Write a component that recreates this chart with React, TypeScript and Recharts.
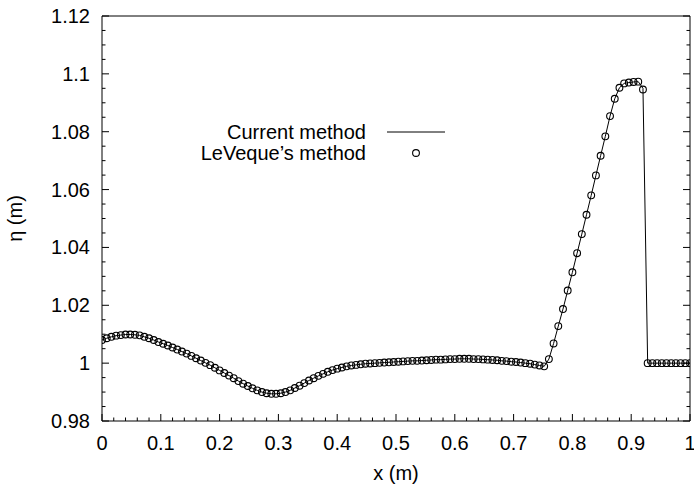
import React from 'react';
import { ComposedChart, Line, Scatter, XAxis, YAxis, Legend } from 'recharts';

// grid positions x (m)
const xPoints = [
  0, 0.008, 0.016, 0.024, 0.032, 0.04, 0.048, 0.056, 0.064, 0.072,
  0.08, 0.088, 0.096, 0.104, 0.112, 0.12, 0.128, 0.136, 0.144, 0.152,
  0.16, 0.168, 0.176, 0.184, 0.192, 0.2, 0.208, 0.216, 0.224, 0.232,
  0.24, 0.248, 0.256, 0.264, 0.272, 0.28, 0.288, 0.296, 0.304, 0.312,
  0.32, 0.328, 0.336, 0.344, 0.352, 0.36, 0.368, 0.376, 0.384, 0.392,
  0.4, 0.408, 0.416, 0.424, 0.432, 0.44, 0.448, 0.456, 0.464, 0.472,
  0.48, 0.488, 0.496, 0.504, 0.512, 0.52, 0.528, 0.536, 0.544, 0.552,
  0.56, 0.568, 0.576, 0.584, 0.592, 0.6, 0.608, 0.616, 0.624, 0.632,
  0.64, 0.648, 0.656, 0.664, 0.672, 0.68, 0.688, 0.696, 0.704, 0.712,
  0.72, 0.728, 0.736, 0.744, 0.752, 0.76, 0.768, 0.776, 0.784, 0.792,
  0.8, 0.808, 0.816, 0.824, 0.832, 0.84, 0.848, 0.856, 0.864, 0.872,
  0.88, 0.888, 0.896, 0.904, 0.912, 0.92, 0.928, 0.936, 0.944, 0.952,
  0.96, 0.968, 0.976, 0.984, 0.992, 1.0,
];

// LeVeque's method (circles)
const levequeEta = [
  1.0080, 1.0086, 1.0091, 1.0095, 1.0097, 1.0099, 1.0099, 1.0098, 1.0096, 1.0091,
  1.0086, 1.0080, 1.0073, 1.0067, 1.0061, 1.0054, 1.0047, 1.0040, 1.0033, 1.0025,
  1.0017, 1.0009, 1.0001, 0.9993, 0.9984, 0.9975, 0.9966, 0.9957, 0.9948, 0.9938,
  0.9929, 0.9921, 0.9913, 0.9906, 0.9900, 0.9896, 0.9894, 0.9894, 0.9896, 0.9900,
  0.9906, 0.9914, 0.9922, 0.9931, 0.9940, 0.9948, 0.9956, 0.9963, 0.9970, 0.9976,
  0.9981, 0.9985, 0.9989, 0.9992, 0.9994, 0.9996, 0.9998, 0.9999, 1.0000, 1.0001,
  1.0002, 1.0003, 1.0004, 1.0005, 1.0006, 1.0007, 1.0008, 1.0008, 1.0009, 1.0010,
  1.0011, 1.0012, 1.0012, 1.0013, 1.0014, 1.0014, 1.0015, 1.0015, 1.0015, 1.0014,
  1.0014, 1.0013, 1.0012, 1.0011, 1.0010, 1.0008, 1.0007, 1.0005, 1.0004, 1.0002,
  1.0000, 0.9998, 0.9995, 0.9992, 0.9989, 1.0014, 1.0068, 1.0128, 1.0187, 1.0251,
  1.0314, 1.0380, 1.0446, 1.0513, 1.0580, 1.0649, 1.0717, 1.0784, 1.0854, 1.0914,
  1.0952, 1.0967, 1.0970, 1.0972, 1.0973, 1.0946, 1.0000, 1.0000, 1.0000, 1.0000,
  1.0000, 1.0000, 1.0000, 1.0000, 1.0000, 1.0000,
];

// Current method (solid line)
const currentEta = [
  1.0080, 1.0086, 1.0091, 1.0095, 1.0097, 1.0099, 1.0099, 1.0098, 1.0096, 1.0091,
  1.0086, 1.0080, 1.0073, 1.0067, 1.0061, 1.0054, 1.0047, 1.0040, 1.0033, 1.0025,
  1.0017, 1.0009, 1.0001, 0.9993, 0.9984, 0.9975, 0.9966, 0.9957, 0.9948, 0.9938,
  0.9929, 0.9921, 0.9913, 0.9906, 0.9900, 0.9896, 0.9894, 0.9894, 0.9896, 0.9900,
  0.9906, 0.9914, 0.9922, 0.9931, 0.9940, 0.9948, 0.9956, 0.9963, 0.9970, 0.9976,
  0.9981, 0.9985, 0.9989, 0.9992, 0.9994, 0.9996, 0.9998, 0.9999, 1.0000, 1.0001,
  1.0002, 1.0003, 1.0004, 1.0005, 1.0006, 1.0007, 1.0008, 1.0008, 1.0009, 1.0010,
  1.0011, 1.0012, 1.0012, 1.0013, 1.0014, 1.0014, 1.0015, 1.0015, 1.0015, 1.0014,
  1.0014, 1.0013, 1.0012, 1.0011, 1.0010, 1.0008, 1.0007, 1.0005, 1.0004, 1.0002,
  1.0000, 0.9998, 0.9995, 0.9992, 0.9989, 1.0014, 1.0068, 1.0128, 1.0187, 1.0251,
  1.0314, 1.0380, 1.0446, 1.0513, 1.0580, 1.0649, 1.0717, 1.0784, 1.0854, 1.0914,
  1.0952, 1.0967, 1.0970, 1.0972, 1.0973, 1.0950, 1.0000, 1.0000, 1.0000, 1.0000,
  1.0000, 1.0000, 1.0000, 1.0000, 1.0000, 1.0000,
];

const seriesNames = ['Current method', 'LeVeque\u2019s method'];
const xTitle = 'x (m)';
const yTitle = '\u03B7 (m)';

const xMajorTicks = [0, 0.1, 0.2, 0.3, 0.4, 0.5, 0.6, 0.7, 0.8, 0.9, 1];
const yMajorTicks = [0.98, 1, 1.02, 1.04, 1.06, 1.08, 1.1, 1.12];
const xMinorPerMajor = 5;
const yMinorPerMajor = 4;

const subdivide = (majors: number[], n: number) => {
  const out: number[] = [];
  for (let i = 0; i < majors.length - 1; i++) {
    for (let k = 0; k < n; k++) {
      out.push(Math.round((majors[i] + ((majors[i + 1] - majors[i]) * k) / n) * 1e6) / 1e6);
    }
  }
  out.push(majors[majors.length - 1]);
  return out;
};

const xTicks = subdivide(xMajorTicks, xMinorPerMajor);
const yTicks = subdivide(yMajorTicks, yMinorPerMajor);

const levequeData = xPoints.map((x, i) => ({ x, eta: levequeEta[i] }));
const currentData = xPoints.map((x, i) => ({ x, eta: currentEta[i] }));

const FONT = '"Liberation Sans", Arial, Helvetica, sans-serif';
const FS = 20;
const MAJOR = 7;
const MINOR = 3.5;

const isMajor = (v: number, majors: number[]) => majors.some((m) => Math.abs(m - v) < 1e-9);
const fmt = (v: number) => String(Number(v.toFixed(2)));

const BottomTick = (props: any) => {
  const { x, y, payload } = props;
  const major = isMajor(payload.value, xMajorTicks);
  return (
    <g>
      <line x1={x} y1={y} x2={x} y2={y - (major ? MAJOR : MINOR)} stroke="#000" strokeWidth={1} />
      {major && (
        <text x={x} y={y + 29} textAnchor="middle" fontFamily={FONT} fontSize={FS} fill="#000">
          {fmt(payload.value)}
        </text>
      )}
    </g>
  );
};

const TopTick = (props: any) => {
  const { x, y, payload } = props;
  const major = isMajor(payload.value, xMajorTicks);
  return <line x1={x} y1={y} x2={x} y2={y + (major ? MAJOR : MINOR)} stroke="#000" strokeWidth={1} />;
};

const LeftTick = (props: any) => {
  const { x, y, payload } = props;
  const major = isMajor(payload.value, yMajorTicks);
  return (
    <g>
      <line x1={x} y1={y} x2={x + (major ? MAJOR : MINOR)} y2={y} stroke="#000" strokeWidth={1} />
      {major && (
        <text x={x - 12} y={y + 7} textAnchor="end" fontFamily={FONT} fontSize={FS} fill="#000">
          {fmt(payload.value)}
        </text>
      )}
    </g>
  );
};

const RightTick = (props: any) => {
  const { x, y, payload } = props;
  const major = isMajor(payload.value, yMajorTicks);
  return <line x1={x} y1={y} x2={x - (major ? MAJOR : MINOR)} y2={y} stroke="#000" strokeWidth={1} />;
};

const XTitle = (props: any) => {
  const { viewBox, value } = props;
  return (
    <text x={viewBox.x + viewBox.width / 2} y={viewBox.y + 59} textAnchor="middle" fontFamily={FONT} fontSize={FS} fill="#000">
      {value}
    </text>
  );
};

const YTitle = (props: any) => {
  const { viewBox, value } = props;
  const cx = viewBox.x + viewBox.width - 87;
  const cy = viewBox.y + viewBox.height / 2;
  return (
    <text x={cx} y={cy} transform={`rotate(-90 ${cx} ${cy})`} textAnchor="middle" dominantBaseline="central" fontFamily={FONT} fontSize={FS} fill="#000">
      {value}
    </text>
  );
};

const OpenCircle = (props: any) => {
  const { cx, cy } = props;
  if (cx == null || cy == null) return null;
  return <circle cx={cx} cy={cy} r={3.4} fill="none" stroke="#000" strokeWidth={1.1} />;
};

const LegendBox = (props: any) => {
  const payload: any[] = props.payload || [];
  const textRight = 186;
  return (
    <svg width={300} height={60} style={{ overflow: 'visible' }}>
      {payload.map((entry, i) => {
        const cy = 22 + i * 21;
        return (
          <g key={i}>
            <text x={textRight} y={cy + 7} textAnchor="end" fontFamily={FONT} fontSize={FS} fill="#000">
              {entry.value}
            </text>
            {entry.type === 'line' ? (
              <line x1={207} y1={cy} x2={265} y2={cy} stroke="#000" strokeWidth={1} />
            ) : (
              <circle cx={236} cy={cy} r={3.4} fill="none" stroke="#000" strokeWidth={1.1} />
            )}
          </g>
        );
      })}
    </svg>
  );
};

export default function App() {
  return (
    <div style={{ position: 'absolute', left: 0, top: 0, width: 694, height: 486, background: '#fff' }}>
      <ComposedChart width={694} height={486} margin={{ top: 15, right: 3, bottom: 5, left: 2 }}>
        <XAxis
          xAxisId="b"
          dataKey="x"
          type="number"
          domain={[0, 1]}
          allowDataOverflow
          ticks={xTicks}
          interval={0}
          height={60}
          tickSize={0}
          tickMargin={0}
          tickLine={false}
          axisLine={{ stroke: '#000', strokeWidth: 1 }}
          tick={(p: any) => <BottomTick {...p} />}
          label={{ value: xTitle, content: (p: any) => <XTitle {...p} value={xTitle} /> }}
        />
        <XAxis
          xAxisId="t"
          orientation="top"
          type="number"
          domain={[0, 1]}
          allowDataOverflow
          ticks={xTicks}
          interval={0}
          height={1}
          tickSize={0}
          tickMargin={0}
          tickLine={false}
          axisLine={{ stroke: '#000', strokeWidth: 1 }}
          tick={(p: any) => <TopTick {...p} />}
        />
        <YAxis
          yAxisId="l"
          dataKey="eta"
          type="number"
          domain={[0.98, 1.12]}
          allowDataOverflow
          ticks={yTicks}
          interval={0}
          width={100}
          tickSize={0}
          tickMargin={0}
          tickLine={false}
          axisLine={{ stroke: '#000', strokeWidth: 1 }}
          tick={(p: any) => <LeftTick {...p} />}
          label={{ value: yTitle, content: (p: any) => <YTitle {...p} value={yTitle} /> }}
        />
        <YAxis
          yAxisId="r"
          orientation="right"
          type="number"
          domain={[0.98, 1.12]}
          allowDataOverflow
          ticks={yTicks}
          interval={0}
          width={1}
          tickSize={0}
          tickMargin={0}
          tickLine={false}
          axisLine={{ stroke: '#000', strokeWidth: 1 }}
          tick={(p: any) => <RightTick {...p} />}
        />
        <Line
          xAxisId="b"
          yAxisId="l"
          data={currentData}
          dataKey="eta"
          name={seriesNames[0]}
          type="linear"
          stroke="#000"
          strokeWidth={1}
          dot={false}
          legendType="line"
          isAnimationActive={false}
        />
        <Scatter
          xAxisId="b"
          yAxisId="l"
          data={levequeData}
          dataKey="eta"
          name={seriesNames[1]}
          shape={(p: any) => <OpenCircle {...p} />}
          legendType="circle"
          isAnimationActive={false}
        />
        <Legend
          layout="vertical"
          align="center"
          verticalAlign="middle"
          content={(p: any) => <LegendBox {...p} />}
          wrapperStyle={{ position: 'absolute', left: 180, top: 110, width: 300, height: 60 }}
        />
      </ComposedChart>
    </div>
  );
}
